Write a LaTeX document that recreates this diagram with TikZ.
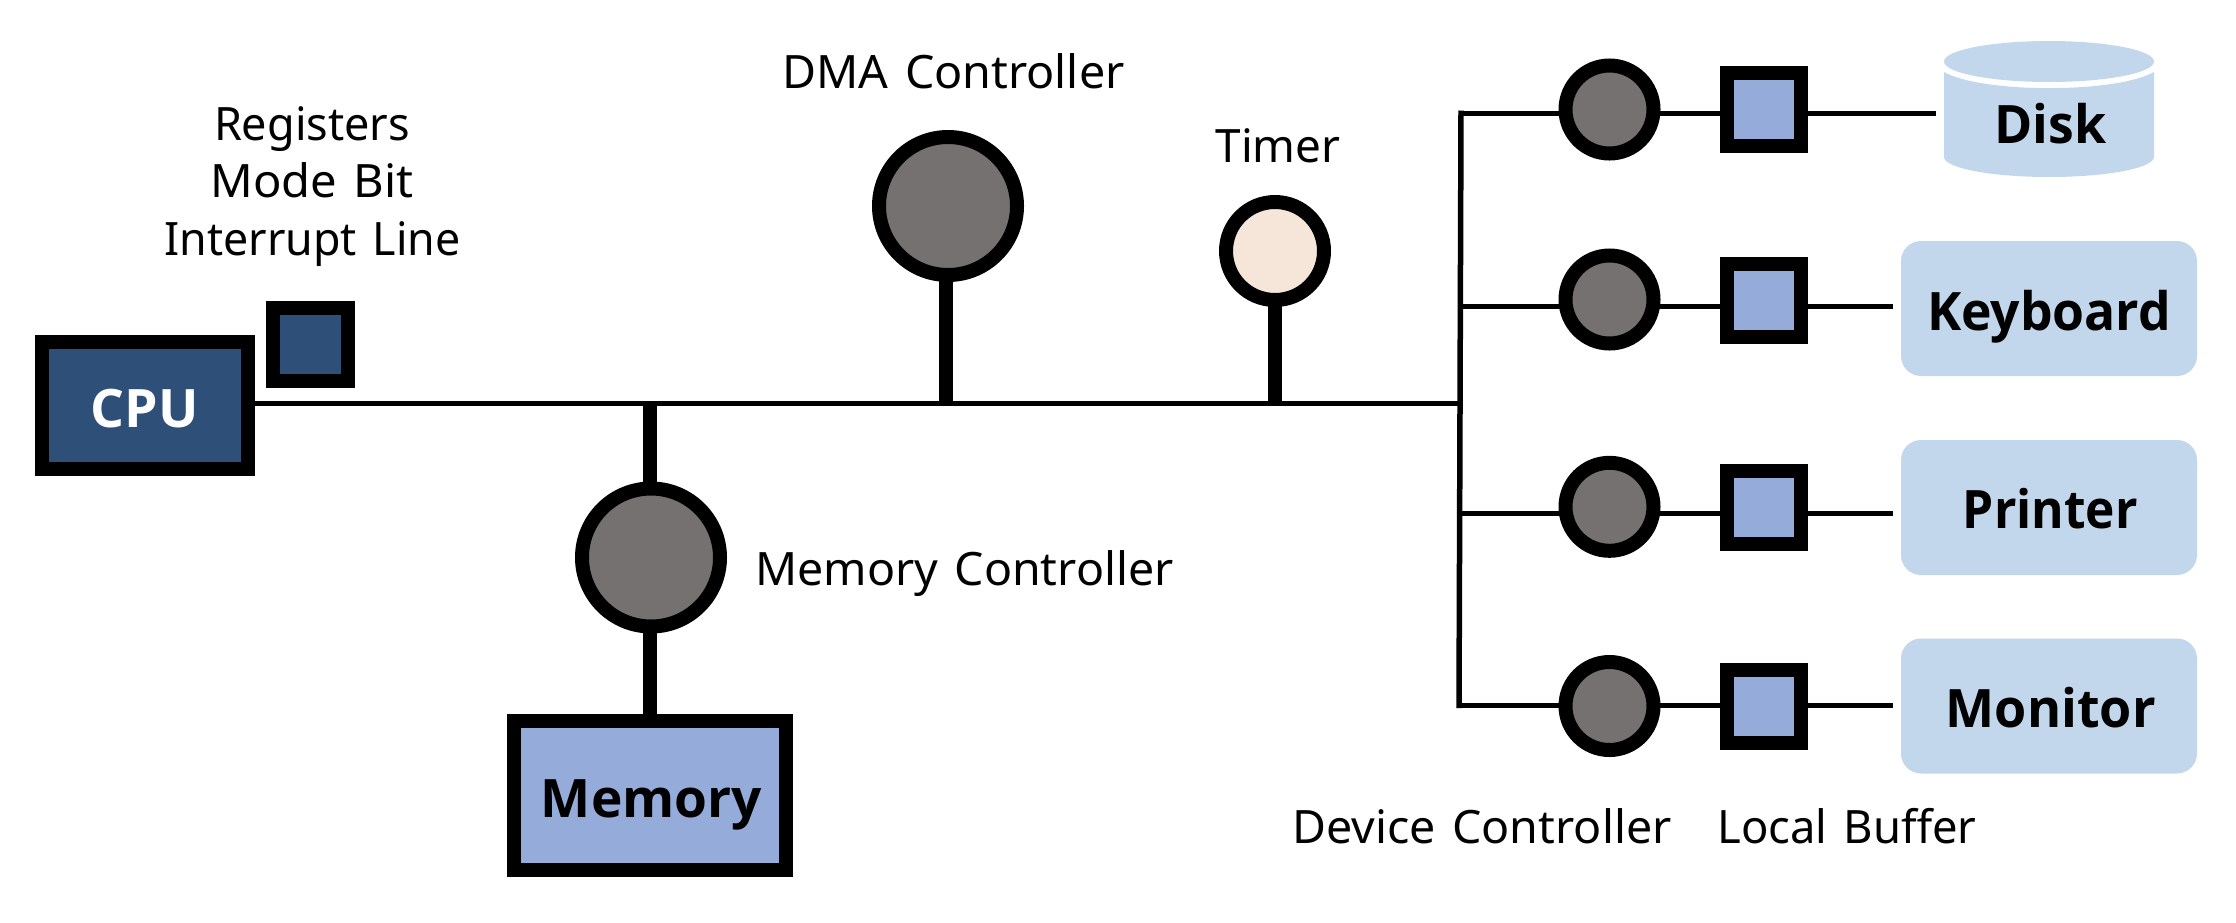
\documentclass[tikz,border=0pt]{standalone}
\usepackage{fontspec}
\usepackage{graphicx}
\setmainfont{Noto Sans}[WordSpace=1.35]
\newfontfamily\boldface{Open Sans}[BoldFont={Open Sans Bold}]
\definecolor{cpublue}{HTML}{2E4F78}
\definecolor{ctrlgray}{HTML}{767171}
\definecolor{memblue}{HTML}{95ABD9}
\definecolor{devblue}{HTML}{C3D7EC}
\definecolor{peach}{HTML}{F6E6D9}
\newcommand{\fitw}[2]{\resizebox{#1pt}{\height}{#2}}
\tikzset{
  x=1pt,y=-1pt,
  every node/.style={inner sep=0pt,outer sep=0pt},
  label text/.style={anchor=base,font=\fontsize{46}{46}\selectfont,text=black},
  dev text/.style={anchor=base,font=\fontsize{53}{53}\boldface\bfseries,text=black},
  block/.style={rectangle,draw=black,line width=14pt},
  bigctrl/.style={circle,draw=black,line width=14pt,fill=ctrlgray,minimum size=138pt},
  devctrl/.style={circle,draw=black,line width=14pt,fill=ctrlgray,minimum size=88pt},
  buffer/.style={block,fill=memblue,minimum width=74.5pt,minimum height=73pt},
  device/.style={rectangle,rounded corners=20pt,fill=devblue,minimum width=296pt,minimum height=135pt},
  bus/.style={draw=black,line width=5.5pt,line cap=butt},
  wire/.style={draw=black,line width=5.5pt,line cap=rect},
  stem/.style={draw=black,line width=14pt},
}
\begin{document}
\begin{tikzpicture}
\useasboundingbox (0,0) rectangle (2236,922);
% coordinates of the wires
\coordinate (busEnd) at (1458,403.5);
\coordinate (tapMem) at (650,403.5);
\coordinate (tapDma) at (946,403.5);
\coordinate (tapTim) at (1275,403.5);
\coordinate (spineT) at (1461,110.5);
\coordinate (spineB) at (1459,708);
\coordinate (j1) at (1463,113.5);
\coordinate (j2) at (1463,306.5);
\coordinate (j3) at (1463,513.5);
\coordinate (j4) at (1463,705.5);
\coordinate (e1) at (1933.7,113.5);
\coordinate (e2) at (1890.2,306.5);
\coordinate (e3) at (1890.2,513.5);
\coordinate (e4) at (1890.2,705.5);
% CPU
\node[block,fill=cpublue,minimum width=206pt,minimum height=127pt] (cpu) at (145,405.5) {};
\node[dev text,text=white] (cputxt) at (144.5,427) {\fitw{108}{CPU}};
\node[block,fill=cpublue,minimum width=75pt,minimum height=73pt] (reg) at (310.5,344.5) {};
\node[label text] (t1) at (312,140) {\fitw{196}{Registers}};
\node[label text] (t2) at (312,197) {\fitw{203}{Mode Bit}};
\node[label text] (t3) at (312.5,255) {\fitw{296}{Interrupt Line}};
% Memory
\node[bigctrl] (mc) at (651,557.5) {};
\node[block,fill=memblue,minimum width=272.5pt,minimum height=149pt] (mem) at (649.75,795.5) {};
\node[dev text] (memt) at (651.5,817) {\fitw{221}{Memory}};
\node[label text] (t4) at (964.5,585) {\fitw{418}{Memory Controller}};
% DMA
\node[bigctrl] (dma) at (948,206) {};
\node[label text] (t5) at (953.5,88) {\fitw{342}{DMA Controller}};
% Timer
\node[circle,draw=black,line width=14pt,fill=peach,minimum size=98pt] (tim) at (1275,251) {};
\node[label text] (t6) at (1278,162) {\fitw{125}{Timer}};
% Device rows
\node[devctrl] (c1) at (1609.5,109.5) {};
\node[devctrl] (c2) at (1609.5,299.5) {};
\node[devctrl] (c3) at (1609.5,506.8) {};
\node[devctrl] (c4) at (1609.5,706) {};
\node[buffer] (b1) at (1764.2,109.7) {};
\node[buffer] (b2) at (1764.2,300) {};
\node[buffer] (b3) at (1764.2,507) {};
\node[buffer] (b4) at (1764.2,706) {};
% Disk
\fill[devblue] (1944,72) .. controls (1982,93.5) and (2116,93.5) .. (2154,72) -- (2154,157)
  .. controls (2154,168) and (2107,177) .. (2049,177)
  .. controls (1991,177) and (1944,168) .. (1944,157) -- cycle;
\fill[devblue] (2049,61.5) ellipse[x radius=105,y radius=20.5];
\node[dev text] (disk) at (2050.5,143) {\fitw{112}{Disk}};
% Devices
\node[device] (d2) at (2049,308.5) {};
\node[dev text] at (2049,330) {\fitw{244}{Keyboard}};
\node[device] (d3) at (2049,507.5) {};
\node[dev text] at (2050.4,528) {\fitw{175}{Printer}};
\node[device] (d4) at (2049,706) {};
\node[dev text] at (2050.8,727) {\fitw{210}{Monitor}};
\node[label text] (t7) at (1482,843) {\fitw{379}{Device Controller}};
\node[label text] (t8) at (1847,843) {\fitw{259}{Local Buffer}};
% Connectors
\path[bus] (cpu.east |- busEnd) -- (busEnd);
\path[stem] (tapMem) -- (mc.north -| tapMem);
\path[stem] (mc.south -| tapMem) -- (mem.north -| tapMem);
\path[stem] (tapDma) -- (dma.south -| tapDma);
\path[stem] (tapTim) -- (tim.south -| tapTim);
\path[draw=black,line width=5.5pt] (spineT) -- (spineB);
\foreach \i in {1,2,3,4}{
  \path[wire] (j\i) -- (c\i.west |- j\i);
  \path[wire] (c\i.east |- j\i) -- (b\i.west |- j\i);
  \path[wire] (b\i.east |- j\i) -- (e\i);
}
\end{tikzpicture}
\end{document}
